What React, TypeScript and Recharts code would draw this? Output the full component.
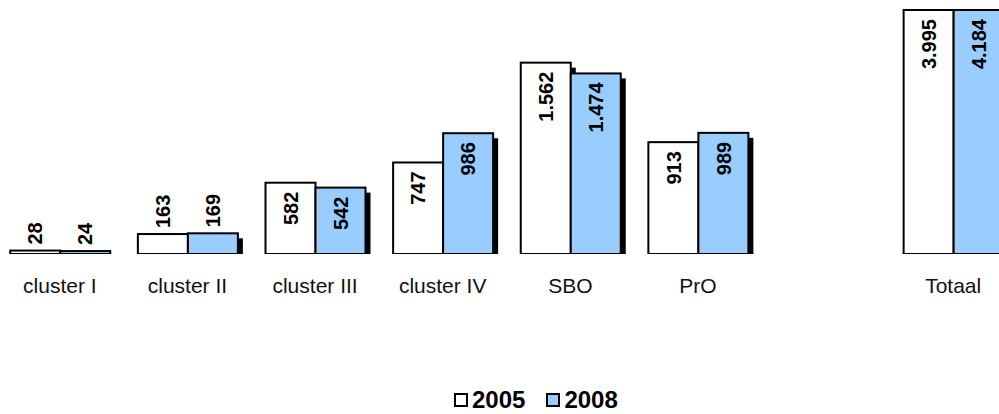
import { BarChart, Bar, XAxis, YAxis, Legend, LabelList } from "recharts";

const categories = ["cluster I", "cluster II", "cluster III", "cluster IV", "SBO", "PrO", "", "Totaal"];
const values2005 = [28, 163, 582, 747, 1562, 913, null, 3995];
const values2008 = [24, 169, 542, 986, 1474, 989, null, 4184];
const seriesNames = ["2005", "2008"];
const seriesColors = ["#FFFFFF", "#99CCFF"];

const data = categories.map((name, i) => ({
  name,
  v2005: values2005[i],
  v2008: values2008[i],
}));

const FONT = "Arial, 'Liberation Sans', sans-serif";
const TOP = 9;

const fmt = (v: number) => String(v).replace(/\B(?=(\d{3})+(?!\d))/g, ".");

const ShadowBar = (props: any) => {
  const { x, y, width, height, fill, background } = props;
  if (x == null || !height) return null;
  const plotTop = background && background.y != null ? background.y : TOP;
  const bottom = y + height;
  const top = Math.max(y, plotTop + 1);
  const h = bottom - top;
  return (
    <g>
      <rect x={x + 5} y={top + 5} width={width} height={Math.max(h - 5, 0)} fill="#000" />
      <rect x={x} y={top} width={width} height={h} fill={fill} stroke="#000" strokeWidth={2} />
    </g>
  );
};

const BarLabel = (props: any) => {
  const { x, y, width, height, value } = props;
  if (value == null || x == null) return null;
  const bottom = y + height;
  const top = Math.max(y, TOP + 1);
  const h = bottom - top;
  const text = fmt(value);
  const textLen = text.length * 11;
  const cx = x + width / 2;
  const inside = h > textLen + 20;
  const ty = inside ? top + 9 : top - 6;
  return (
    <text
      transform={`translate(${cx},${ty}) rotate(-90)`}
      x={0}
      y={0}
      dy="0.36em"
      textAnchor={inside ? "end" : "start"}
      fontFamily={FONT}
      fontWeight="bold"
      fontSize={20}
      fill="#000"
    >
      {text}
    </text>
  );
};

const CategoryTick = (props: any) => {
  const { x, y, payload } = props;
  return (
    <text x={x} y={y} dy={39} textAnchor="middle" fontFamily={FONT} fontSize={21} fill="#111">
      {payload.value}
    </text>
  );
};

const LegendContent = () => (
  <div style={{ display: "flex", alignItems: "center", fontFamily: FONT, fontWeight: "bold", fontSize: 24, color: "#000" }}>
    {seriesNames.map((n, i) => (
      <div key={n} style={{ display: "flex", alignItems: "center", marginRight: i === 0 ? 21 : 0 }}>
        <span
          style={{
            display: "inline-block",
            width: 10,
            height: 10,
            border: "2px solid #000",
            background: seriesColors[i],
            marginRight: 4,
          }}
        />
        <span>{n}</span>
      </div>
    ))}
  </div>
);

export default function App() {
  return (
    <div style={{ position: "absolute", left: 0, top: 0, width: 999, height: 414, overflow: "hidden", background: "#fff" }}>
      <div style={{ position: "absolute", left: -4, top: 0 }}>
        <BarChart
          width={1021}
          height={414}
          data={data}
          margin={{ top: TOP, right: 0, left: 0, bottom: 120 }}
          barCategoryGap={14.25}
          barGap={0}
        >
          <XAxis
            dataKey="name"
            axisLine={false}
            tickLine={false}
            tickSize={0}
            tickMargin={0}
            interval={0}
            height={40}
            tick={<CategoryTick />}
          />
          <YAxis hide domain={[0, 2000]} allowDataOverflow />
          <Legend
            layout="vertical"
            verticalAlign="middle"
            align="center"
            content={<LegendContent />}
            wrapperStyle={{ position: "absolute", left: 458, top: 386, width: "auto" }}
          />
          <Bar dataKey="v2005" name={seriesNames[0]} fill={seriesColors[0]} shape={<ShadowBar />} isAnimationActive={false}>
            <LabelList dataKey="v2005" content={<BarLabel />} />
          </Bar>
          <Bar dataKey="v2008" name={seriesNames[1]} fill={seriesColors[1]} shape={<ShadowBar />} isAnimationActive={false}>
            <LabelList dataKey="v2008" content={<BarLabel />} />
          </Bar>
        </BarChart>
      </div>
    </div>
  );
}
